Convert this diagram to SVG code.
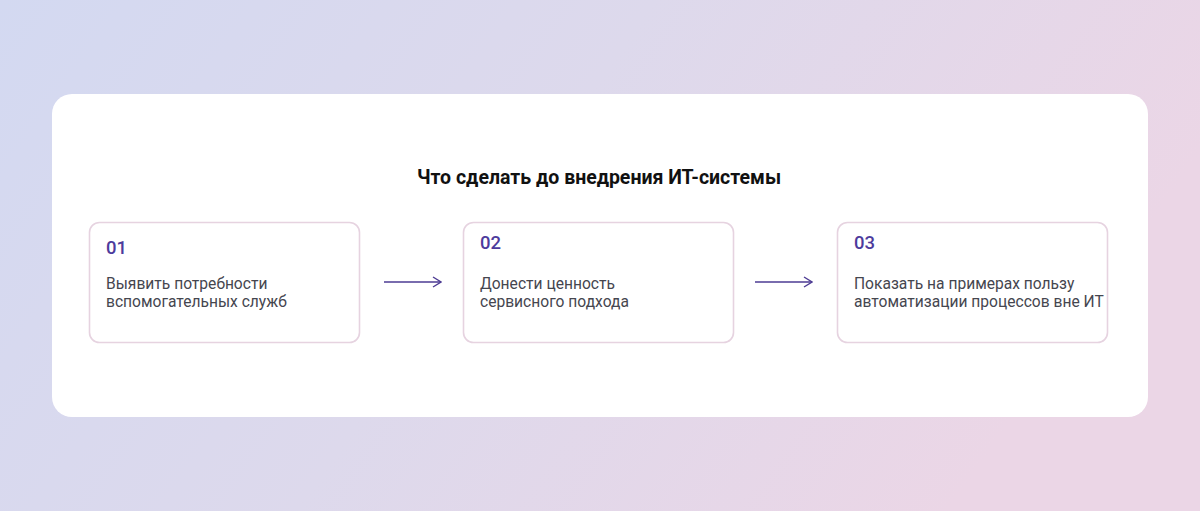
<svg xmlns="http://www.w3.org/2000/svg" width="1200" height="511" viewBox="0 0 1200 511">
<defs>
<linearGradient id="bg" x1="0" y1="0" x2="1" y2="0.3"><stop offset="0" stop-color="#d3d9f1"/><stop offset="0.5" stop-color="#ddd9ec"/><stop offset="1" stop-color="#ebd6e6"/></linearGradient>
<marker id="ah" markerWidth="10" markerHeight="12" refX="9" refY="6" orient="auto" markerUnits="userSpaceOnUse"><path d="M1,1 L9,6 L1,11" fill="none" stroke="#4d3b93" stroke-width="1.4"/></marker>
</defs>
<style>
.box{fill:#fff;stroke:#e6d3e0;stroke-width:1.6}
.num{font-family:Roboto,"Liberation Sans",sans-serif;font-size:18.5px;font-weight:500;fill:#4d3b9c}
.txt{font-family:Roboto,"Liberation Sans",sans-serif;font-size:15.6px;fill:#45464f}
.c{stroke:#4d3b93;stroke-width:1.6;fill:none;marker-end:url(#ah)}
</style>
<rect width="1200" height="511" fill="url(#bg)"/>
<rect x="52" y="94" width="1096" height="323" rx="20" fill="#fff"/>
<text x="599" y="184" text-anchor="middle" font-family="Roboto,'Liberation Sans',sans-serif" font-size="19.5" font-weight="700" fill="#111">Что сделать до внедрения ИТ-системы</text>
<g id="n1"><rect class="box" x="89.5" y="222.5" width="270" height="120" rx="10"/><text class="num" x="106" y="254">01</text><text class="txt" x="106" y="289">Выявить потребности</text><text class="txt" x="106" y="307">вспомогательных служб</text></g>
<g id="n2"><rect class="box" x="463.5" y="222.5" width="270" height="120" rx="10"/><text class="num" x="480" y="249">02</text><text class="txt" x="480" y="289">Донести ценность</text><text class="txt" x="480" y="307">сервисного подхода</text></g>
<g id="n3"><rect class="box" x="837.5" y="222.5" width="270" height="120" rx="10"/><text class="num" x="854" y="249">03</text><text class="txt" x="854" y="289">Показать на примерах пользу</text><text class="txt" x="854" y="307">автоматизации процессов вне ИТ</text></g>
<g id="connectors"><line class="c" x1="384" y1="282" x2="441" y2="282"/><line class="c" x1="755" y1="282" x2="812" y2="282"/></g>
</svg>
